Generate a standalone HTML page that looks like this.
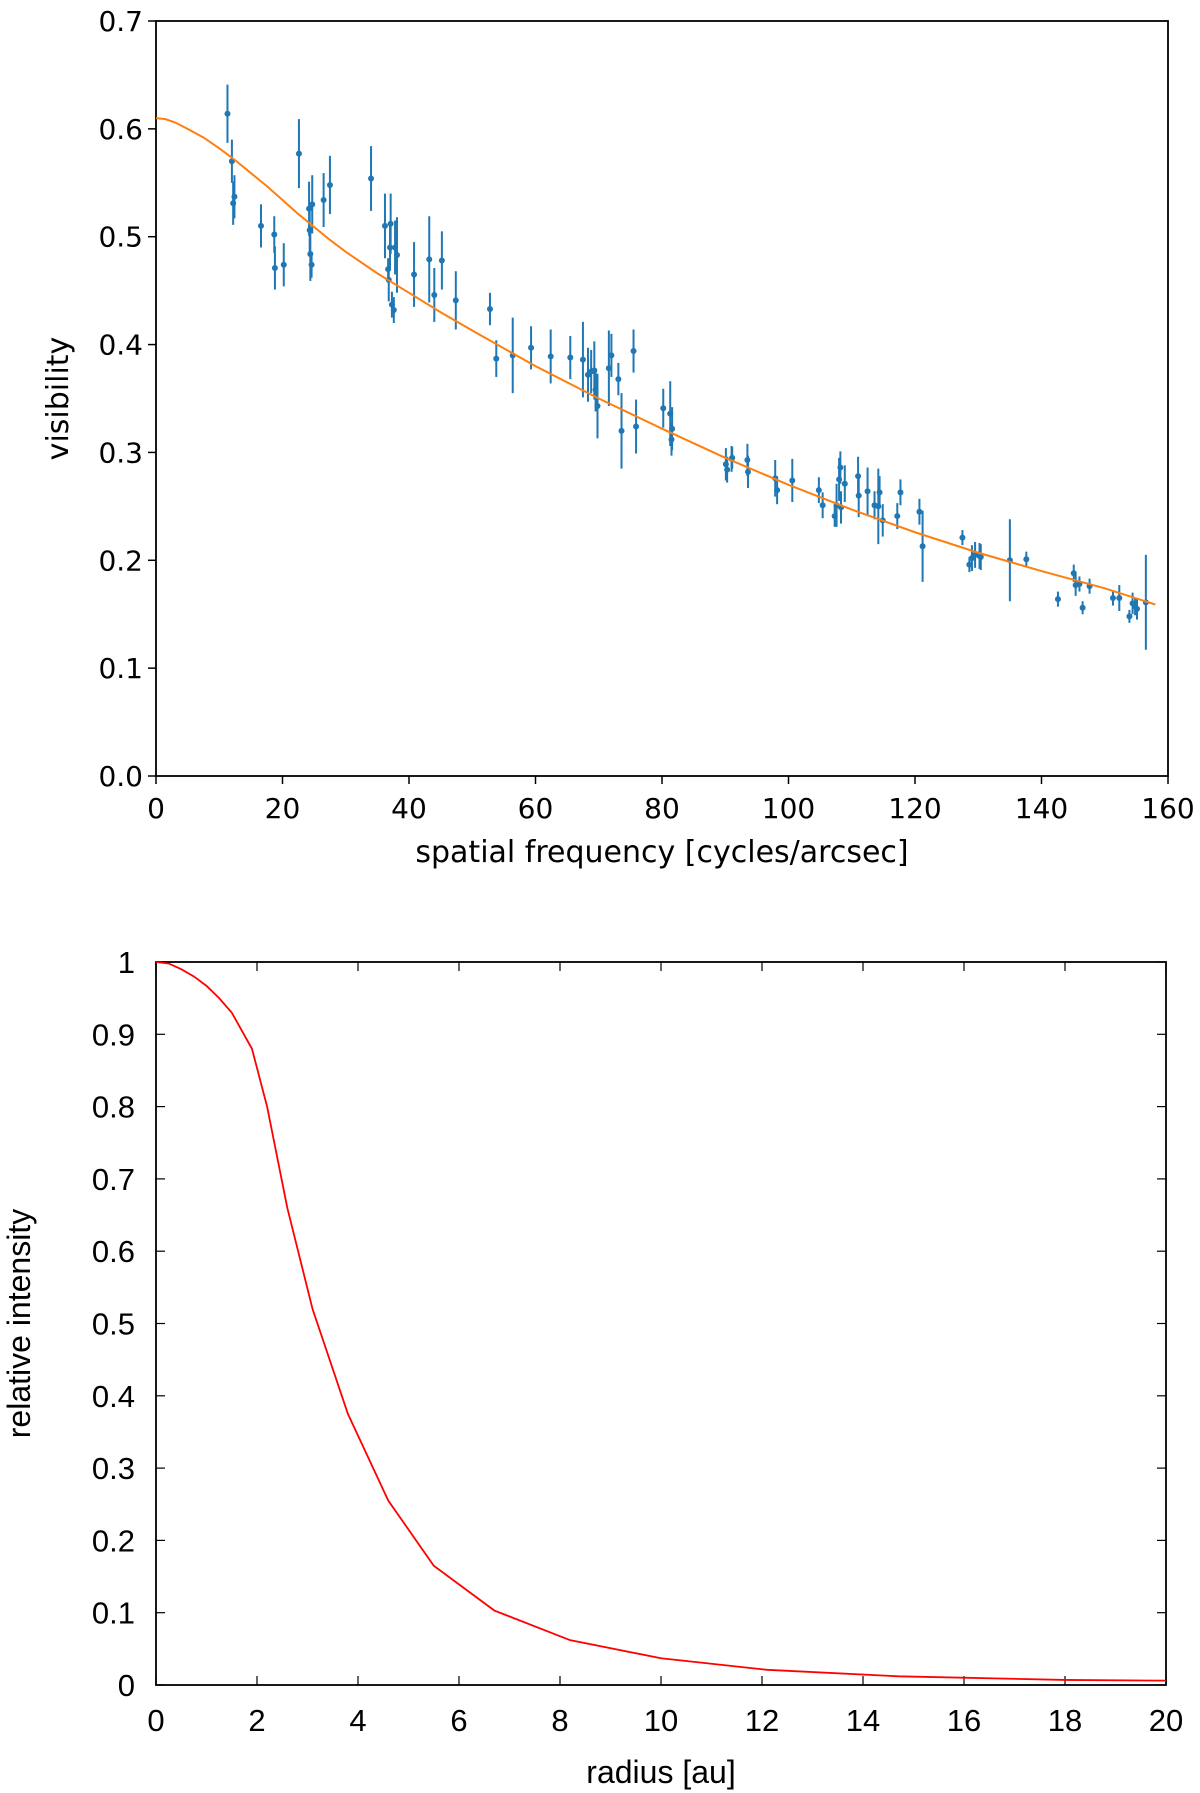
<!DOCTYPE html>
<html><head><meta charset="utf-8">
<style>
html,body{margin:0;padding:0;background:#fff;}
svg{display:block;}
.t1{font-family:"DejaVu Sans","Liberation Sans",sans-serif;font-size:28px;fill:#000;}
.a1{font-family:"DejaVu Sans","Liberation Sans",sans-serif;font-size:30px;fill:#000;}
.t2{font-family:"Liberation Sans",sans-serif;font-size:31px;fill:#000;}
.a2{font-family:"Liberation Sans",sans-serif;font-size:32px;fill:#000;}
</style></head>
<body>
<svg id="chart" width="1200" height="1793" viewBox="0 0 1200 1793">
<g id="top"></g>
<g id="bot"></g>
</svg>
<script>
// ---- top chart data ----
const visFreq=[11.3,12,12.2,12.4,16.6,18.7,18.8,20.2,22.6,24.2,24.3,24.4,24.6,24.7,26.5,27.5,34,36.2,36.7,36.8,37,37.1,37.3,37.6,37.8,38.1,40.8,43.2,44,45.2,47.4,52.8,53.8,56.4,59.3,62.4,65.5,67.5,68.3,68.8,69.3,69.5,69.8,71.6,72,73.1,73.6,75.5,75.9,80.2,81.3,81.5,81.6,90.1,90.3,91,91.1,93.5,93.6,97.9,98.2,100.6,104.8,105.4,107.3,107.6,108,108.2,108.3,108.9,111,111.1,112.5,113.6,114.2,114.4,114.9,117.2,117.7,120.7,121.2,127.5,128.6,129,129.5,130.2,130.4,135,137.6,142.6,145.1,145.4,146,146.5,147.6,151.3,152.3,153.9,154.4,154.8,155.1,156.5];
const visValue=[0.614,0.57,0.531,0.537,0.51,0.502,0.471,0.474,0.577,0.526,0.506,0.484,0.474,0.53,0.534,0.548,0.554,0.51,0.47,0.46,0.49,0.512,0.437,0.432,0.49,0.483,0.465,0.479,0.446,0.478,0.441,0.433,0.387,0.39,0.397,0.389,0.388,0.386,0.372,0.375,0.376,0.358,0.343,0.378,0.39,0.368,0.32,0.394,0.324,0.341,0.336,0.312,0.322,0.289,0.284,0.294,0.295,0.293,0.282,0.276,0.265,0.274,0.265,0.251,0.241,0.251,0.275,0.286,0.249,0.271,0.278,0.26,0.264,0.251,0.25,0.263,0.237,0.241,0.263,0.245,0.213,0.221,0.196,0.202,0.205,0.204,0.203,0.2,0.201,0.164,0.188,0.177,0.178,0.156,0.176,0.165,0.165,0.148,0.16,0.157,0.155,0.161];
const visErr=[0.027,0.02,0.02,0.02,0.02,0.017,0.02,0.02,0.032,0.025,0.02,0.025,0.012,0.027,0.025,0.027,0.03,0.03,0.01,0.02,0.02,0.028,0.012,0.012,0.025,0.035,0.03,0.04,0.025,0.027,0.027,0.015,0.017,0.035,0.02,0.025,0.02,0.035,0.025,0.02,0.027,0.02,0.03,0.035,0.02,0.015,0.035,0.02,0.025,0.018,0.03,0.015,0.02,0.015,0.012,0.012,0.01,0.015,0.015,0.017,0.013,0.02,0.012,0.012,0.01,0.02,0.02,0.015,0.015,0.017,0.018,0.02,0.022,0.013,0.035,0.015,0.015,0.012,0.012,0.012,0.033,0.007,0.007,0.012,0.012,0.012,0.012,0.038,0.007,0.007,0.008,0.01,0.007,0.006,0.007,0.007,0.012,0.006,0.01,0.008,0.01,0.044];
const modelFreq=[0,1.5,3,5,7.5,10,12.5,15,17.5,20,22.5,25,27.5,30,35,40,45,50,60,70,80,90,100,110,120,130,140,150,158];
const modelVis=[0.61,0.609,0.606,0.6,0.592,0.582,0.571,0.559,0.547,0.534,0.521,0.509,0.497,0.486,0.466,0.448,0.43,0.413,0.38,0.35,0.322,0.295,0.27,0.247,0.226,0.207,0.19,0.174,0.159];
const topXTicks=[0,20,40,60,80,100,120,140,160];
const topYTicks=["0.0","0.1","0.2","0.3","0.4","0.5","0.6","0.7"];
// ---- bottom chart data ----
const radius=[0,0.25,0.5,0.75,1,1.25,1.5,1.9,2.2,2.6,3.1,3.8,4.6,5.5,6.7,8.2,10,12.1,14.7,18,20];
const intensity=[1,0.998,0.99,0.98,0.967,0.95,0.93,0.88,0.8,0.66,0.52,0.375,0.255,0.165,0.103,0.062,0.037,0.021,0.012,0.007,0.006];
const botXTicks=[0,2,4,6,8,10,12,14,16,18,20];
const botYTicks=["0","0.1","0.2","0.3","0.4","0.5","0.6","0.7","0.8","0.9","1"];

const NS="http://www.w3.org/2000/svg";
function mk(parent,tag,attrs,text){const e=document.createElementNS(NS,tag);for(const k in attrs)e.setAttribute(k,attrs[k]);if(text!==undefined)e.textContent=text;parent.appendChild(e);return e;}

// top chart
const T=document.getElementById('top');
const tL=156,tR=1168,tT=21,tB=776;
const tx=v=>tL+(v-0)/160*(tR-tL);
const ty=v=>tB-(v-0)/0.7*(tB-tT);
let e;
e=mk(T,'rect',{x:tL,y:tT,width:tR-tL,height:tB-tT,fill:'none',stroke:'#000','stroke-width':1.8});


topXTicks.forEach(v=>{
  e=mk(T,'line',{x1:tx(v),x2:tx(v),y1:tB,y2:tB+8,stroke:'#000','stroke-width':1.5});
  
  
  e=mk(T,'text',{x:tx(v),y:tB+42,'text-anchor':'middle',class:'t1'},String(v));
  
  
});
topYTicks.forEach(s=>{
  const v=parseFloat(s);
  e=mk(T,'line',{x1:tL-8,x2:tL,y1:ty(v),y2:ty(v),stroke:'#000','stroke-width':1.5});
  
  
  e=mk(T,'text',{x:tL-13,y:ty(v)+10,'text-anchor':'end',class:'t1'},s);
  
  
});
e=mk(T,'text',{x:(tL+tR)/2,y:862,'text-anchor':'middle',class:'a1'},'spatial frequency [cycles/arcsec]');


e=mk(T,'text',{x:0,y:0,'text-anchor':'middle',class:'a1',transform:'translate(68,'+((tT+tB)/2)+') rotate(-90)'},'visibility');


visFreq.forEach((f,i)=>{
  const v=visValue[i],er=visErr[i];
  e=mk(T,'line',{x1:tx(f),x2:tx(f),y1:ty(v-er),y2:ty(v+er),stroke:'#1f77b4','stroke-width':2});
  
  
  e=mk(T,'circle',{cx:tx(f),cy:ty(v),r:3,fill:'#1f77b4'});
  
  
});
e=mk(T,'polyline',{points:modelFreq.map((f,i)=>tx(f)+','+ty(modelVis[i])).join(' '),fill:'none',stroke:'#ff7f0e','stroke-width':2});



// bottom chart
const B=document.getElementById('bot');
const bL=156,bR=1166,bT=962,bB=1685;
const bx=v=>bL+v/20*(bR-bL);
const by=v=>bB-v*(bB-bT);
botXTicks.forEach(v=>{
  e=mk(B,'line',{x1:bx(v),x2:bx(v),y1:bB,y2:bB-9,stroke:'#000','stroke-width':1.2});
  
  
  e=mk(B,'line',{x1:bx(v),x2:bx(v),y1:bT,y2:bT+9,stroke:'#000','stroke-width':1.2});
  
  
  e=mk(B,'text',{x:bx(v),y:bB+46,'text-anchor':'middle',class:'t2'},String(v));
  
  
});
botYTicks.forEach(s=>{
  const v=parseFloat(s);
  e=mk(B,'line',{x1:bL,x2:bL+9,y1:by(v),y2:by(v),stroke:'#000','stroke-width':1.2});
  
  
  e=mk(B,'line',{x1:bR-9,x2:bR,y1:by(v),y2:by(v),stroke:'#000','stroke-width':1.2});
  
  
  e=mk(B,'text',{x:bL-21,y:by(v)+11,'text-anchor':'end',class:'t2'},s);
  
  
});
e=mk(B,'rect',{x:bL,y:bT,width:bR-bL,height:bB-bT,fill:'none',stroke:'#000','stroke-width':1.8});


e=mk(B,'polyline',{points:radius.map((r,i)=>bx(r)+','+by(intensity[i])).join(' '),fill:'none',stroke:'#ff0000','stroke-width':1.8});


e=mk(B,'text',{x:(bL+bR)/2,y:1783,'text-anchor':'middle',class:'a2'},'radius [au]');


e=mk(B,'text',{x:0,y:0,'text-anchor':'middle',class:'a2',transform:'translate(30,'+((bT+bB)/2)+') rotate(-90)'},'relative intensity');


</script>
</body></html>
